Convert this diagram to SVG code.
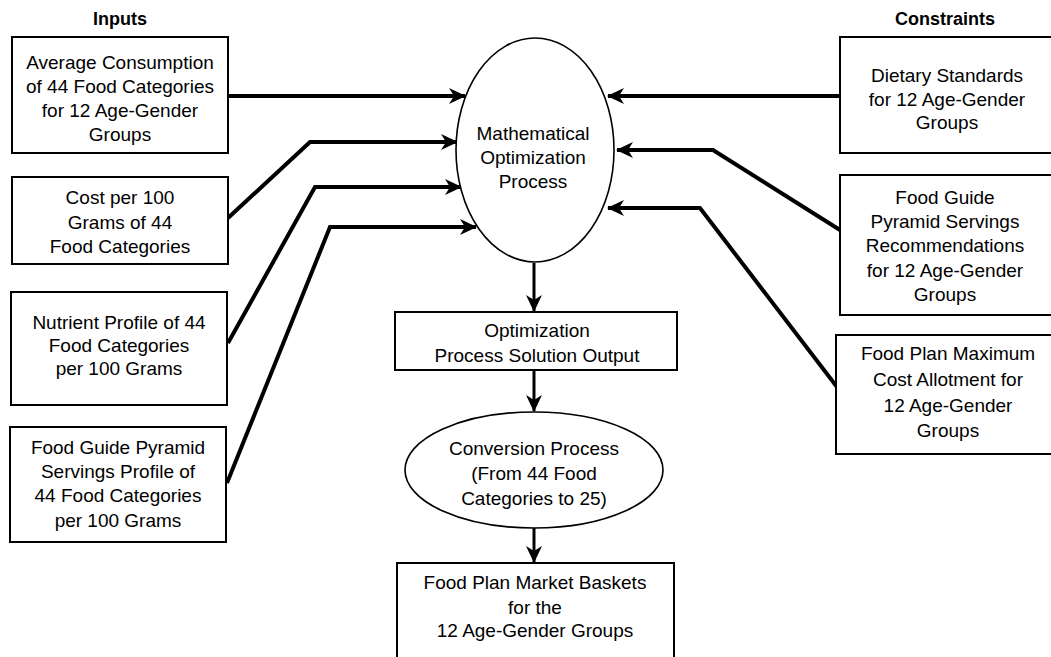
<svg xmlns="http://www.w3.org/2000/svg" width="1051" height="657" viewBox="0 0 1051 657">
<defs>
<style>
.box{fill:#fff;stroke:#000;stroke-width:2}
.ell{fill:#fff;stroke:#000;stroke-width:1.6}
.t{font-family:"Liberation Sans",Arial,sans-serif;font-size:19px;fill:#000;text-anchor:middle}
.h{font-family:"Liberation Sans",Arial,sans-serif;font-size:18px;font-weight:bold;fill:#000;text-anchor:middle}
.c{fill:none;stroke:#000;stroke-width:4;stroke-linejoin:miter}
.v{fill:none;stroke:#000;stroke-width:3}
</style>
<marker id="ah" markerUnits="userSpaceOnUse" markerWidth="18" markerHeight="16" refX="16" refY="8" orient="auto">
<path d="M0,0 L17,8 L0,16 L5,8 z" fill="#000"/>
</marker>
</defs>
<rect width="1051" height="657" fill="#fff"/>
<g id="headings">
<text class="h" x="120" y="25">Inputs</text>
<text class="h" x="945" y="25">Constraints</text>
</g>
<g id="connectors">
<polyline class="c" points="228,96 465,96" marker-end="url(#ah)"/>
<polyline class="c" points="228,218 310,142 457,142" marker-end="url(#ah)"/>
<polyline class="c" points="228,343 315,187 461,187" marker-end="url(#ah)"/>
<polyline class="c" points="227,483 330,227 476,227" marker-end="url(#ah)"/>
<polyline class="c" points="840,96 608,96" marker-end="url(#ah)"/>
<polyline class="c" points="840,230 713,150 617,150" marker-end="url(#ah)"/>
<polyline class="c" points="837,387 700,208 608,208" marker-end="url(#ah)"/>
<line class="v" x1="534" y1="263" x2="534" y2="311" marker-end="url(#ah)"/>
<line class="v" x1="534" y1="370" x2="534" y2="411" marker-end="url(#ah)"/>
<line class="v" x1="534" y1="528" x2="534" y2="562" marker-end="url(#ah)"/>
</g>
<g id="in1">
<rect class="box" x="12" y="37" width="216" height="116"/>
<text class="t" x="120" y="69">Average Consumption</text>
<text class="t" x="120" y="93">of 44 Food Categories</text>
<text class="t" x="120" y="117">for 12 Age-Gender</text>
<text class="t" x="120" y="141">Groups</text>
</g>
<g id="in2">
<rect class="box" x="12" y="177" width="216" height="87"/>
<text class="t" x="120" y="204">Cost per 100</text>
<text class="t" x="120" y="229">Grams of 44</text>
<text class="t" x="120" y="253">Food Categories</text>
</g>
<g id="in3">
<rect class="box" x="11" y="292" width="216" height="113"/>
<text class="t" x="119" y="329">Nutrient Profile of 44</text>
<text class="t" x="119" y="352">Food Categories</text>
<text class="t" x="119" y="375">per 100 Grams</text>
</g>
<g id="in4">
<rect class="box" x="10" y="427" width="216" height="115"/>
<text class="t" x="118" y="454">Food Guide Pyramid</text>
<text class="t" x="118" y="478">Servings Profile of</text>
<text class="t" x="118" y="502">44 Food Categories</text>
<text class="t" x="118" y="527">per 100 Grams</text>
</g>
<g id="optimization">
<ellipse class="ell" cx="535" cy="150" rx="79" ry="112"/>
<text class="t" x="533" y="140">Mathematical</text>
<text class="t" x="533" y="164">Optimization</text>
<text class="t" x="533" y="188">Process</text>
</g>
<g id="con1">
<rect class="box" x="840" y="37" width="212" height="116"/>
<text class="t" x="947" y="82">Dietary Standards</text>
<text class="t" x="947" y="106">for 12 Age-Gender</text>
<text class="t" x="947" y="129">Groups</text>
</g>
<g id="con2">
<rect class="box" x="840" y="175" width="212" height="140"/>
<text class="t" x="945" y="204">Food Guide</text>
<text class="t" x="945" y="228">Pyramid Servings</text>
<text class="t" x="945" y="252">Recommendations</text>
<text class="t" x="945" y="277">for 12 Age-Gender</text>
<text class="t" x="945" y="301">Groups</text>
</g>
<g id="con3">
<rect class="box" x="836" y="335" width="216" height="119"/>
<text class="t" x="948" y="360">Food Plan Maximum</text>
<text class="t" x="948" y="386">Cost Allotment for</text>
<text class="t" x="948" y="412">12 Age-Gender</text>
<text class="t" x="948" y="437">Groups</text>
</g>
<g id="output">
<rect class="box" x="395" y="312" width="282" height="58"/>
<text class="t" x="537" y="337">Optimization</text>
<text class="t" x="537" y="362">Process Solution Output</text>
</g>
<g id="conversion">
<ellipse class="ell" cx="534" cy="470" rx="129" ry="58"/>
<text class="t" x="534" y="455">Conversion Process</text>
<text class="t" x="534" y="480">(From 44 Food</text>
<text class="t" x="534" y="505">Categories to 25)</text>
</g>
<g id="baskets">
<rect class="box" x="397" y="563" width="277" height="110"/>
<text class="t" x="535" y="589">Food Plan Market Baskets</text>
<text class="t" x="535" y="614">for the</text>
<text class="t" x="535" y="637">12 Age-Gender Groups</text>
</g>
</svg>
